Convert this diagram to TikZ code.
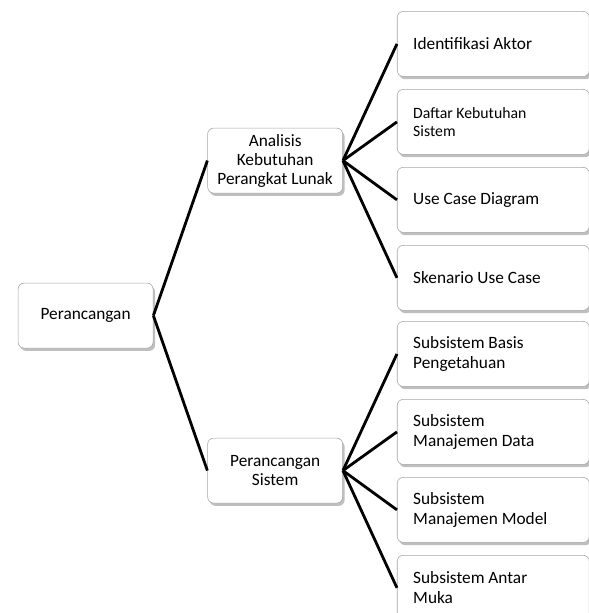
\documentclass[tikz,border=0pt]{standalone}
\usepackage{fontspec}
\setmainfont{Carlito}
\usetikzlibrary{positioning,shadows}
\tikzset{
  box/.style  ={rectangle,draw=gray!70,thin,fill=white,rounded corners=1.5mm,
                drop shadow={shadow xshift=0.5mm,shadow yshift=-0.7mm,fill=black,opacity=0.25},
                minimum height=16.25mm,inner sep=0pt},
  topic/.style={box,minimum width=33.75mm,align=center,font=\fontsize{12.3}{13.5}\selectfont},
  leaf/.style ={box,text width=40mm,inner xsep=4mm,align=flush left,font=\fontsize{12.3}{14.5}\selectfont},
  ln/.style   ={line width=0.7mm,black},
}
\begin{document}
\begin{tikzpicture}[node distance=3.1mm]
  \path[use as bounding box,clip] (-21.4mm,-74.35mm) rectangle (125.85mm,78.9mm);
  \node[topic] (root) at (0,0) {Perancangan};
  \node[topic,right=13.5mm of root,yshift=38.75mm]  (ana) {Analisis\\ Kebutuhan\\ Perangkat Lunak};
  \node[topic,right=13.5mm of root,yshift=-38.75mm] (sis) {Perancangan\\ Sistem};
  % kebutuhan
  \node[leaf,right=13.5mm of ana,yshift=9.675mm,font=\fontsize{11.2}{13}\selectfont] (daftar) {Daftar Kebutuhan\\ Sistem};
  \node[leaf,above=of daftar] (aktor)    {Identifikasi Aktor};
  \node[leaf,below=of daftar] (ucd)      {Use Case Diagram};
  \node[leaf,below=of ucd]    (skenario) {Skenario Use Case};
  % subsistem
  \node[leaf,right=13.5mm of sis,yshift=9.675mm] (data) {Subsistem\\ Manajemen Data};
  \node[leaf,above=of data]  (basis) {Subsistem Basis\\ Pengetahuan};
  \node[leaf,below=of data]  (model) {Subsistem\\ Manajemen Model};
  \node[leaf,below=of model] (muka)  {Subsistem Antar\\ Muka};
  \draw[ln] (root.east) -- (ana.west);
  \draw[ln] (root.east) -- (sis.west);
  \foreach \n in {aktor,daftar,ucd,skenario} \draw[ln] (ana.east) -- (\n.west);
  \foreach \n in {basis,data,model,muka} \draw[ln] (sis.east) -- (\n.west);
\end{tikzpicture}
\end{document}
